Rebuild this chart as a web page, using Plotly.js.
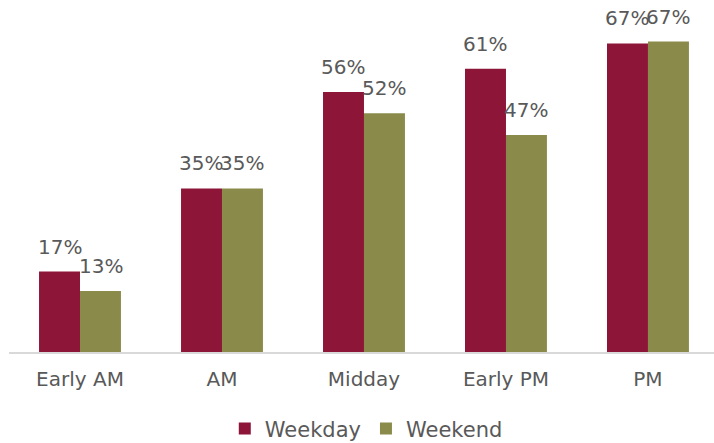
<!DOCTYPE html>
<html><head><meta charset="utf-8">
<script src="https://cdn.plot.ly/plotly-3.0.1.min.js"></script>
<style>html,body{margin:0;padding:0;background:#fff}#chart{width:714px;height:443px}</style>
</head><body><div id="chart"></div>
<script>
var categories = ["Early AM", "AM", "Midday", "Early PM", "PM"];
var weekday = [17.4, 35.4, 56.3, 61.3, 66.8];
var weekend = [13.2, 35.4, 51.7, 47.0, 67.2];
var seriesNames = ["Weekday", "Weekend"];

var font = {family: "DejaVu Sans, sans-serif", size: 20, color: "#595959"};
var traces = [
  {type: "bar", name: seriesNames[0], x: categories, y: weekday,
   marker: {color: "#8C1538"}, hoverinfo: "none"},
  {type: "bar", name: seriesNames[1], x: categories, y: weekend,
   marker: {color: "#8A8B4A"}, hoverinfo: "none"}
];
var annotations = [];
[weekday, weekend].forEach(function (vals, s) {
  vals.forEach(function (v, j) {
    annotations.push({x: categories[j], y: v, text: Math.round(v) + "%",
      xref: "x", yref: "y", showarrow: false, yanchor: "bottom",
      xshift: s === 0 ? -20.5 : 20.5, yshift: 11, font: font});
  });
});
var layout = {
  width: 714, height: 443,
  margin: {l: 9, r: 0, t: 6, b: 91},
  barmode: "group", bargap: 0.423, bargroupgap: 0,
  font: font,
  paper_bgcolor: "#fff", plot_bgcolor: "#fff",
  annotations: annotations,
  xaxis: {type: "category", range: [-0.5, 4.465], showline: true, linecolor: "#d9d9d9", linewidth: 2,
          ticks: "", tickfont: font, ticklabelstandoff: 8, showgrid: false, fixedrange: true, automargin: false},
  yaxis: {range: [0, 74.9], visible: false, showgrid: false, zeroline: false, fixedrange: true},
  showlegend: true,
  legend: {orientation: "h", xref: "container", yref: "container", x: 0.513, xanchor: "center",
           y: 0.032, yanchor: "middle", font: {family: font.family, size: 21, color: "#595959"},
           itemwidth: 30, traceorder: "normal"}
};
Plotly.newPlot("chart", traces, layout, {displayModeBar: false, staticPlot: true});
</script></body></html>
